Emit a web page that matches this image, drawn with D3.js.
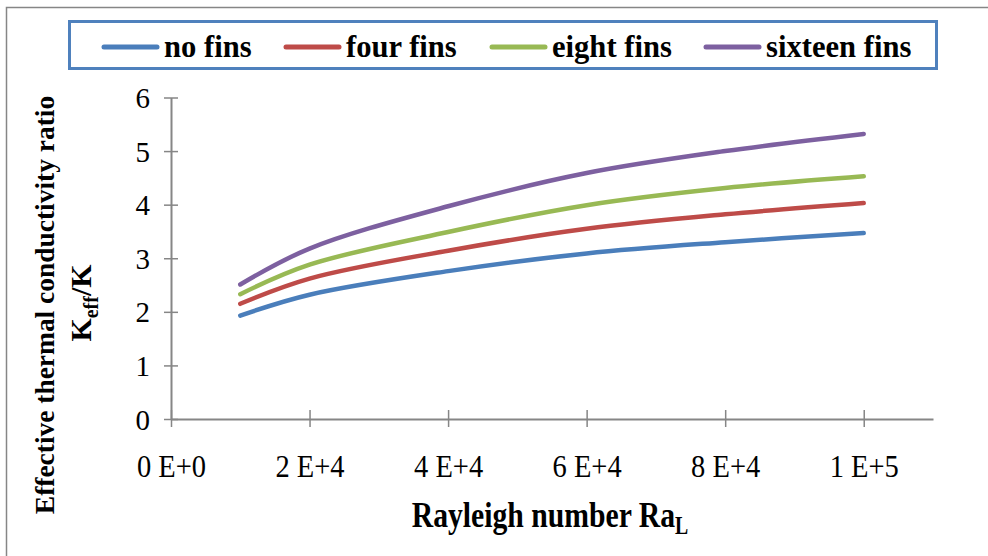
<!DOCTYPE html>
<html><head><meta charset="utf-8">
<script src="https://cdn.jsdelivr.net/npm/d3@7"></script>
<style>
body{margin:0;background:#fff;}
svg{display:block;font-family:"Liberation Serif","Times New Roman",serif;}
</style></head>
<body>
<svg id="chart" width="988" height="556"></svg>
<script>
const seriesNames = ["no fins","four fins","eight fins","sixteen fins"];
const seriesColors = ["#4A7EBB","#BE4B48","#98B954","#7D60A0"];
const rayleigh = [10000,20000,40000,60000,80000,100000];
const noFins = [1.93,2.32,2.76,3.09,3.30,3.47];
const fourFins = [2.15,2.62,3.14,3.55,3.82,4.03];
const eightFins = [2.33,2.88,3.49,3.99,4.31,4.53];
const sixteenFins = [2.51,3.18,3.97,4.59,5.00,5.32];
const xTicks = [0,20000,40000,60000,80000,100000];
const xTickLabels = ["0 E+0","2 E+4","4 E+4","6 E+4","8 E+4","1 E+5"];
const yTicks = [0,1,2,3,4,5,6];

const allSeries = [noFins,fourFins,eightFins,sixteenFins];
const svg = d3.select("#chart");

// outer frame
svg.append("rect").attr("x",6.5).attr("y",7.5).attr("width",990).attr("height",560)
  .attr("fill","none").attr("stroke","#868686").attr("stroke-width",1.5);

const x = d3.scaleLinear().domain([0,110000]).range([171,933]);
const y = d3.scaleLinear().domain([0,6]).range([419,97.5]);
const axisColor = "#868686";

// y axis
const yAxis = svg.append("g").attr("transform","translate(171,0)")
  .call(d3.axisLeft(y).tickValues(yTicks).tickSize(0).tickFormat(d3.format("d")));
yAxis.select(".domain").attr("stroke",axisColor).attr("stroke-width",2);
yAxis.selectAll(".tick").append("line").attr("x1",-7).attr("x2",7)
  .attr("stroke",axisColor).attr("stroke-width",1.5);
yAxis.selectAll(".tick text").attr("x",null).attr("dy",null)
  .attr("font-size",29).attr("fill","#000").attr("font-family","Liberation Serif")
  .attr("transform","translate(-21,10) scale(1.0,1.05)");

// x axis
const xAxis = svg.append("g").attr("transform","translate(0,419)")
  .call(d3.axisBottom(x).tickValues(xTicks).tickSize(0)
    .tickFormat((d,i)=>xTickLabels[i]));
xAxis.select(".domain").attr("stroke",axisColor).attr("stroke-width",2);
xAxis.selectAll(".tick").append("line").attr("y1",-9).attr("y2",8)
  .attr("stroke",axisColor).attr("stroke-width",1.5);
xAxis.selectAll(".tick text").attr("y",null).attr("dy",null)
  .attr("font-size",31).attr("fill","#000").attr("font-family","Liberation Serif")
  .attr("transform","translate(0,58) scale(0.92,1.05)");

// lines
const line = d3.line().x((d,i)=>x(rayleigh[i])).y(d=>y(d)).curve(d3.curveCatmullRom.alpha(0.5));
svg.append("g").selectAll("path").data(allSeries).join("path")
  .attr("d",d=>line(d)).attr("fill","none")
  .attr("stroke",(d,i)=>seriesColors[i]).attr("stroke-width",4.5)
  .attr("stroke-linecap","round").attr("stroke-linejoin","round");

// legend
svg.append("rect").attr("x",69.5).attr("y",21.5).attr("width",867).attr("height",47)
  .attr("fill","#fff").attr("stroke","#4F81BD").attr("stroke-width",3);
const legendX = [103,285,491,705];
const lg = svg.append("g").selectAll("g").data(seriesNames).join("g")
  .attr("transform",(d,i)=>`translate(${legendX[i]},47)`);
lg.append("line").attr("x1",1).attr("x2",54).attr("y1",0).attr("y2",0)
  .attr("stroke",(d,i)=>seriesColors[i]).attr("stroke-width",5).attr("stroke-linecap","round");
lg.append("text").attr("x",0).attr("y",0).attr("font-size",30).attr("font-weight","bold")
  .attr("transform","translate(61,10) scale(1.02,1.08)").text(d=>d);

// x title
const xt = svg.append("text").attr("font-size",33).attr("font-weight","bold")
  .attr("text-anchor","middle").attr("transform","translate(550,527) scale(0.9,1.1)");
xt.append("tspan").text("Rayleigh number Ra");
xt.append("tspan").attr("font-size",22).attr("dy",6).text("L");

// y title
svg.append("text").attr("font-size",28).attr("font-weight","bold").attr("text-anchor","middle")
  .attr("transform","translate(54,305) rotate(-90) scale(0.98,1)").text("Effective thermal conductivity ratio");
const yt2 = svg.append("text").attr("font-size",30).attr("font-weight","bold").attr("text-anchor","middle")
  .attr("transform","translate(91,303) rotate(-90)");
yt2.append("tspan").text("K");
yt2.append("tspan").attr("font-size",20).attr("dy",7).text("eff");
yt2.append("tspan").attr("dy",-7).text("/K");
</script>
</body></html>
